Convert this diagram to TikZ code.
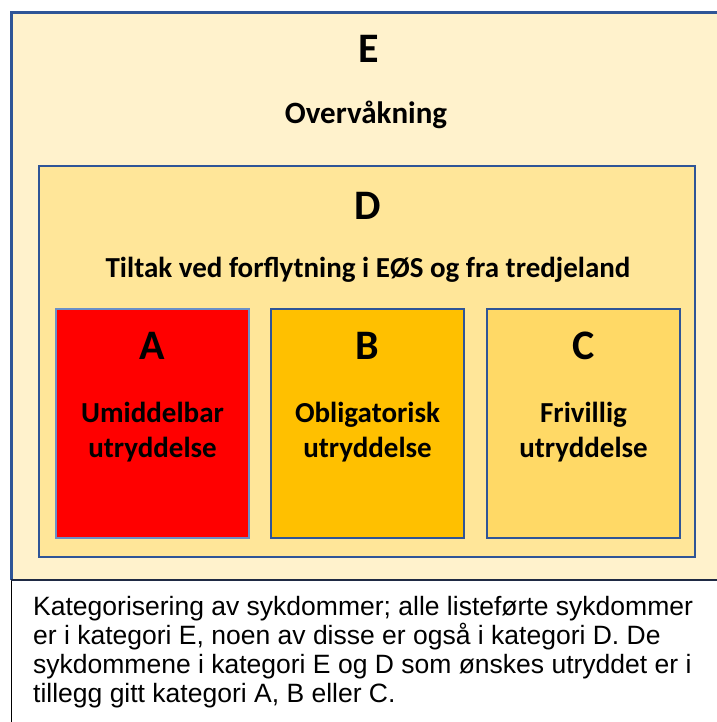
\documentclass[tikz,border=0pt]{standalone}
\usepackage{fontspec}
\setmainfont{Carlito}
\newfontfamily\capfont{Liberation Sans}
\definecolor{eFill}{HTML}{FFF2CC}
\definecolor{dFill}{HTML}{FFE699}
\definecolor{aFill}{HTML}{FF0000}
\definecolor{bFill}{HTML}{FFC000}
\definecolor{cFill}{HTML}{FFD966}
\definecolor{frameBlue}{HTML}{2F5597}
\definecolor{lightBlue}{HTML}{6A8FC8}
\definecolor{navy}{HTML}{1F2A44}
\tikzset{
  catbox/.style={draw=frameBlue, line width=2.2pt},
  letter/.style={font=\bfseries\fontsize{42}{48}\selectfont, anchor=base, inner sep=0pt},
  label/.style={font=\bfseries\fontsize{29}{34}\selectfont, anchor=base, inner sep=0pt},
  biglabel/.style={font=\bfseries\fontsize{31}{36}\selectfont, anchor=base, inner sep=0pt},
  captext/.style={font=\capfont\fontsize{26.5}{29}\selectfont, anchor=base west, inner sep=0pt}
}
\begin{document}
\begin{tikzpicture}[x=1pt,y=-1pt]
\useasboundingbox (0,0) rectangle (716,722);
% caption box
\draw[black, line width=1pt] (11,580) -- (11,730);
\draw[black, line width=1pt] (11,580) -- (730,580);
% E box
\fill[eFill] (11,13) rectangle (730,580);
\draw[frameBlue, line width=3pt] (11,580) -- (11,13) -- (730,13);
\draw[navy, line width=2pt] (11,580) -- (730,580);
\node[letter] (eL) at (369,63) {E};
\node[biglabel] (eT) at (366,124) {Overvåkning};
% D box
\filldraw[fill=dFill, catbox] (39,166) rectangle (695,557);
\node[letter] (dL) at (368,219) {D};
\node[label] (dT) at (368,277) {Tiltak ved forflytning i EØS og fra tredjeland};
% A B C
\filldraw[fill=aFill, draw=lightBlue, line width=2.2pt] (56,309) rectangle (249,538);
\filldraw[fill=bFill, catbox] (271,309) rectangle (464,538);
\filldraw[fill=cFill, catbox] (487,309) rectangle (680,538);
\node[letter] (aL) at (152.5,359) {A};
\node[label] (aT1) at (152.5,422) {Umiddelbar};
\node[label] (aT2) at (152.5,457) {utryddelse};
\node[letter] (bL) at (367.5,359) {B};
\node[label] (bT1) at (367.5,422) {Obligatorisk};
\node[label] (bT2) at (367.5,457) {utryddelse};
\node[letter] (cL) at (583.5,359) {C};
\node[label] (cT1) at (583.5,422) {Frivillig};
\node[label] (cT2) at (583.5,457) {utryddelse};
% caption
\node[captext] (c1) at (33,615) {Kategorisering av sykdommer; alle listeførte sykdommer};
\node[captext] (c2) at (33,644) {er i kategori E, noen av disse er også i kategori D. De};
\node[captext] (c3) at (33,673) {sykdommene i kategori E og D som ønskes utryddet er i};
\node[captext] (c4) at (33,702) {tillegg gitt kategori A, B eller C.};
\end{tikzpicture}
\end{document}
